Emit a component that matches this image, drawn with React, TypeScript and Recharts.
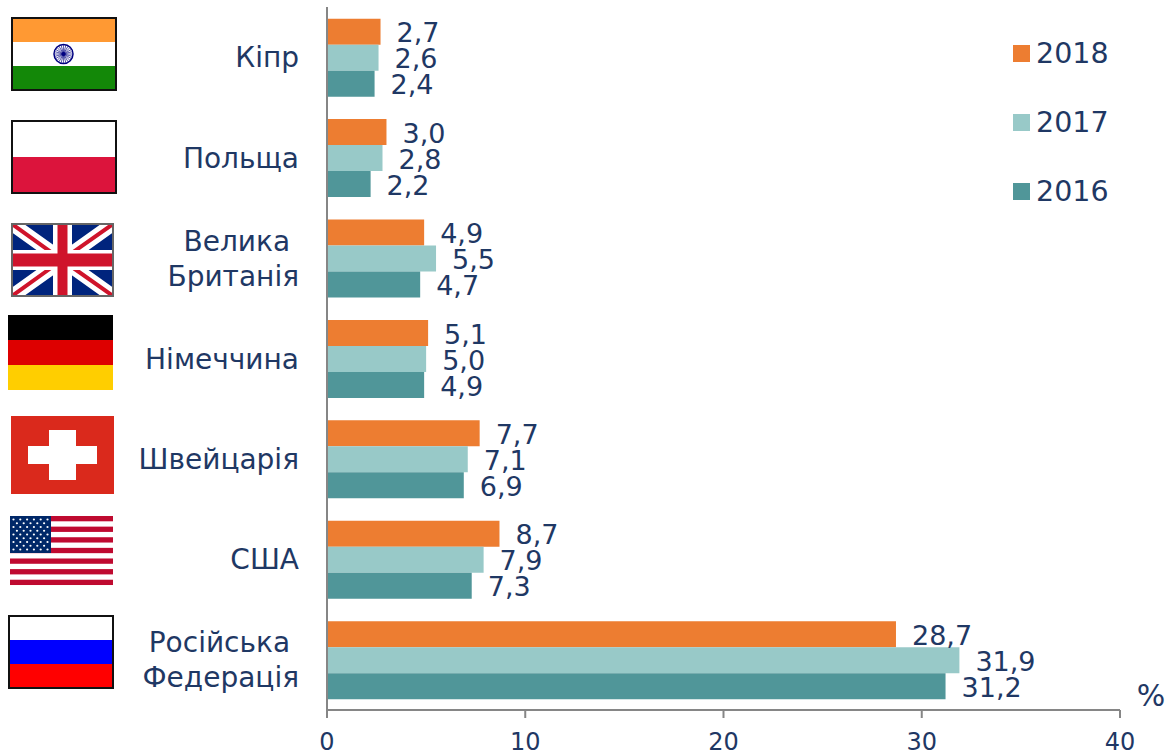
import { BarChart, Bar, XAxis, YAxis, LabelList, Legend } from 'recharts';

const countries = ['Кіпр', 'Польща', 'Велика \nБританія', 'Німеччина', 'Швейцарія', 'США', 'Російська \nФедерація'];
const values2018 = [2.7, 3.0, 4.9, 5.1, 7.7, 8.7, 28.7];
const values2017 = [2.6, 2.8, 5.5, 5.0, 7.1, 7.9, 31.9];
const values2016 = [2.4, 2.2, 4.7, 4.9, 6.9, 7.3, 31.2];
const xTicks = [0, 10, 20, 30, 40];

const data = countries.map((country, i) => ({
  country,
  y2018: values2018[i],
  y2017: values2017[i],
  y2016: values2016[i],
}));

const TEXT = '#1F3864';
const FONT = '"DejaVu Sans", Verdana, sans-serif';
const AXIS = '#868686';

function India() {
  const spokes = [0, 15, 30, 45, 60, 75, 90, 105, 120, 135, 150, 165];
  return (
    <g>
      <rect x={12} y={18} width={104} height={72} fill="#fff" />
      <rect x={12} y={18} width={104} height={24} fill="#FF9933" />
      <rect x={12} y={66} width={104} height={24} fill="#138808" />
      <circle cx={63.5} cy={54} r={9.5} fill="#fff" stroke="#000080" strokeWidth={1.5} />
      {spokes.map((a) => (
        <line
          key={a}
          x1={63.5}
          y1={45}
          x2={63.5}
          y2={63}
          stroke="#000080"
          strokeWidth={0.6}
          transform={`rotate(${a} 63.5 54)`}
        />
      ))}
      <circle cx={63.5} cy={54} r={2} fill="#000080" />
      <rect x={12} y={18} width={104} height={72} fill="none" stroke="#111" strokeWidth={2} />
    </g>
  );
}

function Poland() {
  return (
    <g>
      <rect x={12} y={121} width={104} height={36} fill="#fff" />
      <rect x={12} y={157} width={104} height={36} fill="#DC143C" />
      <rect x={12} y={121} width={104} height={72} fill="none" stroke="#111" strokeWidth={2} />
    </g>
  );
}

function Britain() {
  return (
    <g>
      <svg x={12} y={224} width={101} height={72} viewBox="0 0 101 72">
        <rect width={101} height={72} fill="#00247D" />
        <path d="M0 0L101 72M101 0L0 72" stroke="#fff" strokeWidth={14} />
        <path d="M0 0L50 36M101 0L50 36M101 72L50 36M0 72L50 36" stroke="#CF142B" strokeWidth={4} />
        <rect x={41} width={19} height={72} fill="#fff" />
        <rect y={26} width={101} height={20} fill="#fff" />
        <rect x={45.5} width={10} height={72} fill="#CF142B" />
        <rect y={29.5} width={101} height={13} fill="#CF142B" />
      </svg>
      <rect x={12} y={224} width={101} height={72} fill="none" stroke="#666" strokeWidth={2} />
    </g>
  );
}

function Germany() {
  return (
    <g>
      <rect x={8} y={315} width={105} height={25} fill="#000" />
      <rect x={8} y={340} width={105} height={25} fill="#DD0000" />
      <rect x={8} y={365} width={105} height={25} fill="#FFCE00" />
    </g>
  );
}

function Switzerland() {
  return (
    <g>
      <rect x={11} y={416} width={103} height={78} fill="#DA291C" />
      <rect x={49} y={430} width={27} height={50} fill="#fff" />
      <rect x={28} y={446} width={69} height={18} fill="#fff" />
    </g>
  );
}

function Usa() {
  const stripes = [0, 1, 2, 3, 4, 5, 6];
  const stars: number[][] = [];
  for (let r = 0; r < 9; r++) {
    const n = r % 2 === 0 ? 6 : 5;
    for (let c = 0; c < n; c++) {
      stars.push([r, c]);
    }
  }
  return (
    <g>
      <rect x={10} y={516} width={103} height={69} fill="#fff" />
      {stripes.map((s) => (
        <rect key={s} x={10} y={516 + s * 10.62} width={103} height={5.3} fill="#BF0A30" />
      ))}
      <rect x={10} y={516} width={41} height={37} fill="#002868" />
      {stars.map(([r, c]) => (
        <circle
          key={`${r}-${c}`}
          cx={13.5 + c * 6.8 + (r % 2 === 0 ? 0 : 3.4)}
          cy={519.5 + r * 3.75}
          r={1.1}
          fill="#fff"
        />
      ))}
    </g>
  );
}

function Russia() {
  return (
    <g>
      <rect x={9} y={616} width={104} height={24} fill="#fff" />
      <rect x={9} y={640} width={104} height={24} fill="#0000FF" />
      <rect x={9} y={664} width={104} height={24} fill="#FF0000" />
      <rect x={9} y={616} width={104} height={72} fill="none" stroke="#111" strokeWidth={2} />
    </g>
  );
}

const flags = [India, Poland, Britain, Germany, Switzerland, Usa, Russia];

function CountryTick({ x, y, index, payload }: any) {
  const lines = String(payload.value).split('\n');
  const Flag = flags[index];
  const lineHeight = 35;
  const startY = y - ((lines.length - 1) * lineHeight) / 2;
  return (
    <g>
      <Flag />
      <text
        x={x}
        y={startY}
        textAnchor="end"
        dominantBaseline="central"
        fontFamily={FONT}
        fontSize={28}
        fill={TEXT}
        style={{ whiteSpace: 'pre' }}
      >
        {lines.map((line, i) => (
          <tspan key={i} x={x} y={startY + i * lineHeight}>
            {line}
          </tspan>
        ))}
      </text>
    </g>
  );
}

function LegendBox({ payload }: any) {
  return (
    <div style={{ position: 'relative', width: 150, height: 190 }}>
      {(payload || []).map((item: any, i: number) => (
        <div
          key={item.value}
          style={{
            position: 'absolute',
            left: 0,
            top: i * 69,
            display: 'flex',
            alignItems: 'center',
            height: 34,
            fontFamily: FONT,
            fontSize: 28.5,
            color: TEXT,
          }}
        >
          <span style={{ width: 17, height: 17, background: item.color, marginRight: 6 }} />
          {item.value}
        </div>
      ))}
    </div>
  );
}

const decimalComma = (v: any) => Number(v).toFixed(1).replace('.', ',');

const labelProps = {
  position: 'right' as const,
  offset: 16,
  formatter: decimalComma,
  fill: TEXT,
  fontFamily: FONT,
  fontSize: 27,
  dy: 1,
};

export default function App() {
  return (
    <div style={{ position: 'absolute', left: 0, top: 0, width: 1169, height: 753, overflow: 'hidden', background: '#fff' }}>
      <BarChart
        width={1169}
        height={753}
        data={data}
        layout="vertical"
        barGap={0}
        barCategoryGap="11.6%"
        margin={{ top: 7, right: 49, bottom: 0, left: 0 }}
      >
        <XAxis
          type="number"
          domain={[0, 40]}
          ticks={xTicks}
          height={43}
          tickSize={8}
          tickMargin={15}
          stroke={AXIS}
          strokeWidth={2}
          tick={{ fill: TEXT, fontFamily: FONT, fontSize: 24 }}
          interval={0}
        />
        <YAxis
          type="category"
          dataKey="country"
          width={327}
          tick={CountryTick}
          tickLine={false}
          tickMargin={22}
          stroke={AXIS}
          strokeWidth={2}
          interval={0}
        />
        <Legend
          layout="vertical"
          verticalAlign="middle"
          align="center"
          itemSorter={null}
          content={LegendBox}
          wrapperStyle={{ left: 1013, top: 36, width: 150 }}
        />
        <Bar dataKey="y2018" name="2018" fill="#ED7D31" isAnimationActive={false}>
          <LabelList dataKey="y2018" {...labelProps} />
        </Bar>
        <Bar dataKey="y2017" name="2017" fill="#98C9C8" isAnimationActive={false}>
          <LabelList dataKey="y2017" {...labelProps} />
        </Bar>
        <Bar dataKey="y2016" name="2016" fill="#509699" isAnimationActive={false}>
          <LabelList dataKey="y2016" {...labelProps} />
        </Bar>
        <text x={1151} y={706} textAnchor="middle" fontFamily={FONT} fontSize={30} fill={TEXT}>
          %
        </text>
      </BarChart>
    </div>
  );
}
